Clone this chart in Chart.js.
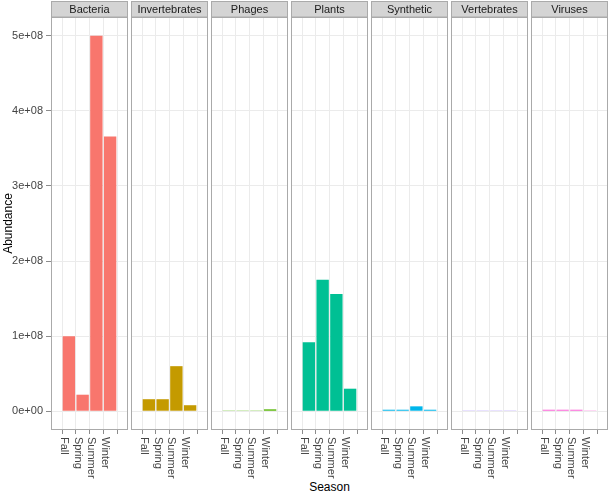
<!DOCTYPE html>
<html><head><meta charset="utf-8">
<script src="https://cdn.jsdelivr.net/npm/chart.js@4.4.0/dist/chart.umd.min.js"></script>
<style>
html,body{margin:0;padding:0;background:#fff;width:609px;height:492px;overflow:hidden;font-family:"Liberation Sans",Arial,sans-serif}
#xtitle{position:absolute;left:51px;width:557px;top:480px;line-height:14px;text-align:center;font-size:12px;color:#000}
</style></head><body>
<div id="xtitle">Season</div>
<script>
// ---- data ----
const seasons = ['Fall', 'Spring', 'Summer', 'Winter'];
const groups = ['Bacteria', 'Invertebrates', 'Phages', 'Plants', 'Synthetic', 'Vertebrates', 'Viruses'];
const bacteria      = [1.0e8, 2.2e7, 5.0e8, 3.66e8];
const invertebrates = [1.6e7, 1.6e7, 6.0e7, 8.0e6];
const phages        = [1.0e6, 1.0e6, 1.0e6, 2.5e6];
const plants        = [9.2e7, 1.75e8, 1.56e8, 3.0e7];
const synthetic     = [2.0e6, 2.0e6, 6.5e6, 2.0e6];
const vertebrates   = [1.0e6, 1.0e6, 1.0e6, 1.0e6];
const viruses       = [2.0e6, 2.0e6, 2.0e6, 1.0e6];
const yTicks = [0, 1e8, 2e8, 3e8, 4e8, 5e8];
const yMin = -2.5e7, yMax = 5.25e8;

const seriesValues = [bacteria, invertebrates, phages, plants, synthetic, vertebrates, viruses];
const colors = ['#F8766D', '#C49A00', '#53B400', '#00C094', '#00B6EB', '#A58AFF', '#FB61D7'];

Chart.defaults.font.family = '"Liberation Sans", Arial, sans-serif';

function fmt(v) {
  if (v === 0) return '0e+00';
  const e = Math.floor(Math.log10(Math.abs(v)) + 1e-9);
  const m = Math.round(v / Math.pow(10, e));
  return m + 'e+' + (e < 10 ? '0' + e : e);
}

function panelPlugin(idx) {
  return {
    id: 'panel' + idx,
    afterDraw(chart) {
      const ctx = chart.ctx, a = chart.chartArea;
      ctx.save();
      ctx.strokeStyle = '#aaaaaa';
      ctx.lineWidth = 1;
      ctx.strokeRect(a.left + 0.5, a.top + 0.5, a.right - a.left - 1, a.bottom - a.top - 1);
      // strip
      ctx.fillStyle = '#d4d4d4';
      ctx.fillRect(a.left, 1, a.right - a.left, 16);
      ctx.strokeRect(a.left + 0.5, 1.5, a.right - a.left - 1, 15.5);
      ctx.fillStyle = '#1a1a1a';
      ctx.font = '11px "Liberation Sans", Arial, sans-serif';
      ctx.textAlign = 'center';
      ctx.textBaseline = 'middle';
      ctx.fillText(groups[idx], (a.left + a.right) / 2, 9.5);
      // rotated x tick labels (reading top to bottom)
      const xs = chart.scales.x;
      ctx.fillStyle = '#444444';
      ctx.textAlign = 'left';
      ctx.textBaseline = 'top';
      seasons.forEach((s, j) => {
        const px = xs.getPixelForValue(j + 1);
        ctx.save();
        ctx.translate(px + 0.5, 437);
        ctx.rotate(Math.PI / 2);
        ctx.fillText(s, 0, 0);
        ctx.restore();
      });
      ctx.restore();
    }
  };
}

function makeChart(idx) {
  const first = idx === 0;
  const canvas = document.createElement('canvas');
  const w = first ? 128 : 77;
  const left = first ? 0 : 51 + idx * 80;
  canvas.width = w; canvas.height = 492;
  canvas.style.position = 'absolute';
  canvas.style.left = left + 'px';
  canvas.style.top = '0px';
  canvas.style.width = w + 'px';
  canvas.style.height = '492px';
  document.body.appendChild(canvas);
  new Chart(canvas, {
    type: 'bar',
    data: {
      datasets: [{
        data: seriesValues[idx].map((v, j) => ({ x: j + 1, y: v })),
        backgroundColor: colors[idx],
        borderWidth: 0,
        categoryPercentage: 1,
        barPercentage: 0.9
      }]
    },
    options: {
      responsive: false,
      animation: false,
      devicePixelRatio: 1,
      layout: { padding: { top: 17, bottom: 58, left: 0, right: 0 } },
      plugins: { legend: { display: false }, tooltip: { enabled: false } },
      scales: {
        x: {
          type: 'linear', min: 0.4, max: 4.6,
          afterBuildTicks: s => { s.ticks = seasons.map((_, j) => ({ value: j + 1 })); },
          afterFit: s => { s.height = 4; },
          grid: { color: '#ebebeb', tickColor: '#8c8c8c', tickLength: 4, drawTicks: true },
          border: { display: false },
          ticks: { display: false }
        },
        y: {
          min: yMin, max: yMax,
          afterBuildTicks: s => { s.ticks = yTicks.map(v => ({ value: v })); },
          afterFit: s => { s.width = first ? 51 : 0; },
          grid: { color: '#ebebeb', tickColor: '#8c8c8c', tickLength: 5, drawTicks: first },
          border: { display: false },
          ticks: { display: first, padding: 3, color: '#444444', font: { size: 11 }, callback: v => fmt(v) },
          title: { display: first, text: 'Abundance', color: '#000', font: { size: 12 }, padding: { top: 1, bottom: 0 } }
        }
      }
    },
    plugins: [panelPlugin(idx)]
  });
}

groups.forEach((g, i) => makeChart(i));
</script>
</body></html>
